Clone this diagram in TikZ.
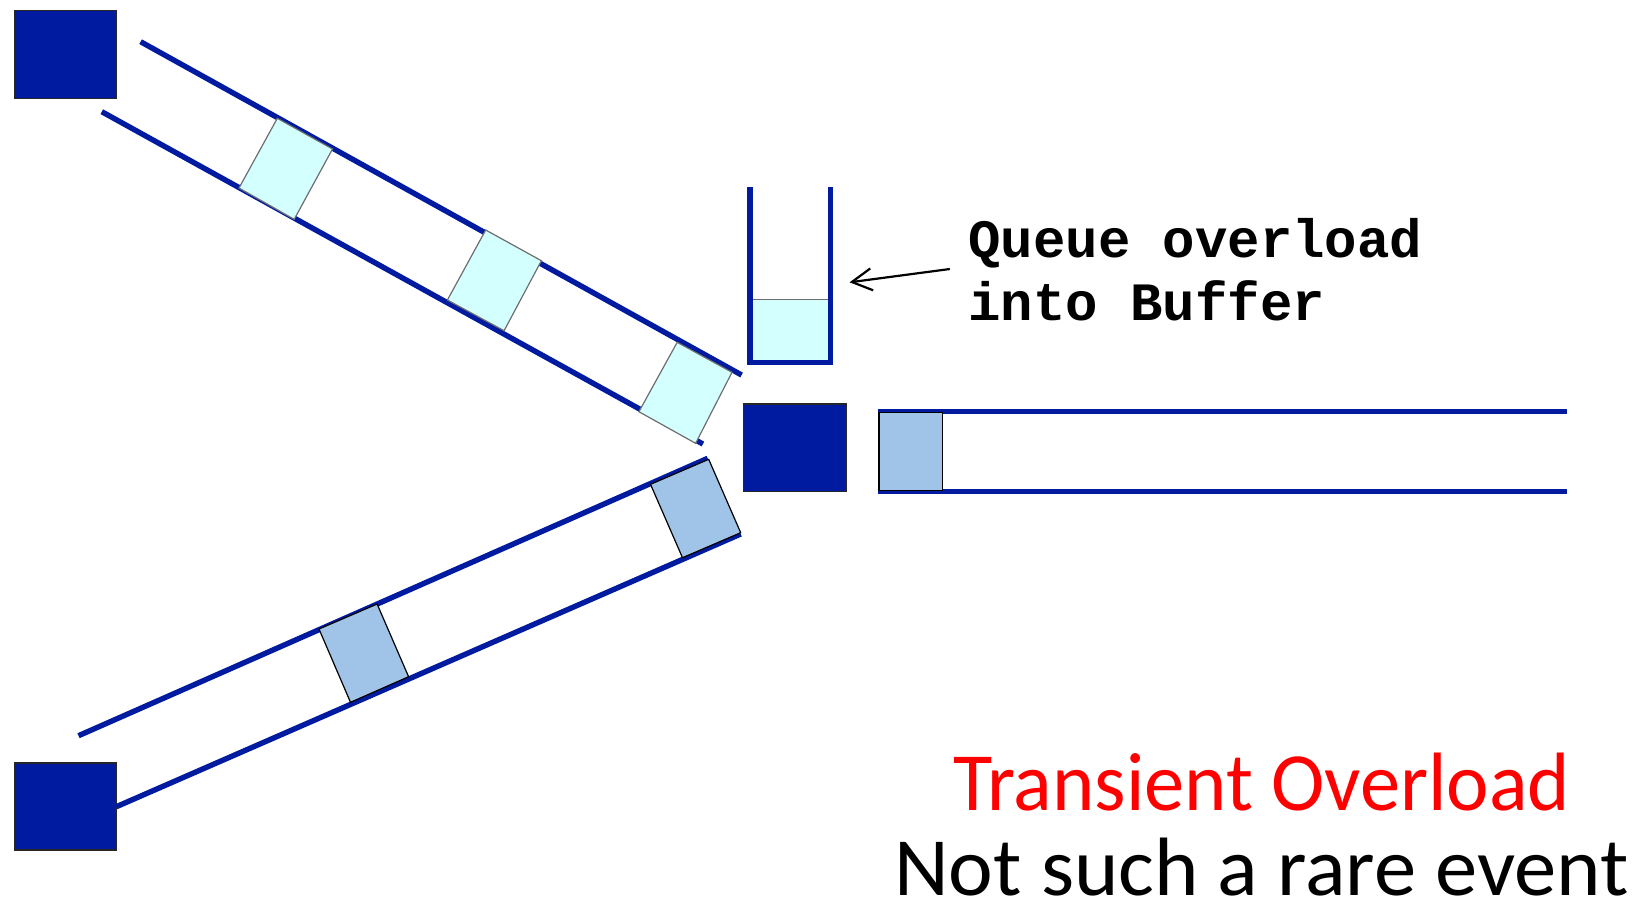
\documentclass[tikz,border=0pt]{standalone}
\usepackage{fontspec}
\setmainfont{Carlito}
\newfontfamily\monofont{Liberation Mono}
\usetikzlibrary{arrows.meta}
\definecolor{dblue}{RGB}{0,26,160}
\definecolor{lcyan}{RGB}{212,255,255}
\definecolor{lblue}{RGB}{160,195,232}
\definecolor{pgray}{RGB}{110,110,110}
\begin{document}
\begin{tikzpicture}[x=0.5pt,y=-0.5pt,
  chan/.style={draw=dblue,line width=2.7pt},
  srv/.style={fill=dblue,draw=black!85,line width=0.75pt},
  pkttop/.style={fill=lcyan,draw=pgray,line width=0.6pt},
  pktbot/.style={fill=lblue,draw=black,line width=0.6pt},
  monotext/.style={anchor=base west,inner sep=0pt,font=\monofont\bfseries\fontsize{27}{30}\selectfont},
  bigtext/.style={anchor=base,inner sep=0pt,font=\fontsize{41.4}{48}\selectfont}]
\useasboundingbox (0,0) rectangle (1642,902);
% servers
\draw[srv] (14.7,10.5) rectangle (116.2,98.4);
\draw[srv] (14.7,763) rectangle (116.2,850);
\draw[srv] (743.5,404) rectangle (846.2,491.5);
% top channel
\draw[chan] (140.6,41.7) -- (741.6,375);
\draw[chan] (101.8,111.7) -- (702.9,444);
\draw[pkttop] (277.3,118.3) -- (332.5,149) -- (294.2,219.3) -- (239,188) -- cycle;
\draw[pkttop] (485.7,230) -- (541.4,260.7) -- (504.1,330.7) -- (447.4,300) -- cycle;
\draw[pkttop] (677.2,342.3) -- (732,372.3) -- (695.6,443.3) -- (638.9,411.7) -- cycle;
% bottom channel
\draw[chan] (78.5,735.7) -- (707.7,458.3);
\draw[chan] (116.3,806.7) -- (740.7,534);
\draw[pktbot] (650.5,484.3) -- (708.7,459.3) -- (740.7,532.7) -- (682.5,557.7) -- cycle;
\draw[pktbot] (319,629) -- (377.1,604) -- (408.6,676.7) -- (350.5,702.3) -- cycle;
% output channel
\draw[chan] (877.6,411.3) -- (1566.6,411.3);
\draw[chan] (877.6,491.3) -- (1566.6,491.3);
\draw[pktbot] (879,412.5) rectangle (942.2,490.5);
% buffer
\fill[lcyan] (750,299.5) rectangle (830.4,362);
\draw[pgray,line width=0.6pt] (750,299.5) -- (830.4,299.5);
\draw[draw=dblue,line width=2.7pt] (750,187.3) -- (750,362.5) -- (830.4,362.5) -- (830.4,187.3);
% label and arrow
\node[monotext] (q1) at (968,257.3) {Queue overload};
\node[monotext] (q2) at (968,320.7) {into Buffer};
\coordinate (arrS) at (949.8,269);
\coordinate (arrE) at (849.6,282.3);
\draw[line width=1.1pt,-{Straight Barb[length=10pt,width=11pt]}] (arrS) -- (arrE);
% bottom text
\node[bigtext,text=red] (t1) at (1261.5,810) {\scalebox{0.972}[1]{Transient Overload}};
\node[bigtext,text=black] (t2) at (1261.5,895) {\scalebox{1.022}[1]{Not such a rare event}};
\end{tikzpicture}
\end{document}
